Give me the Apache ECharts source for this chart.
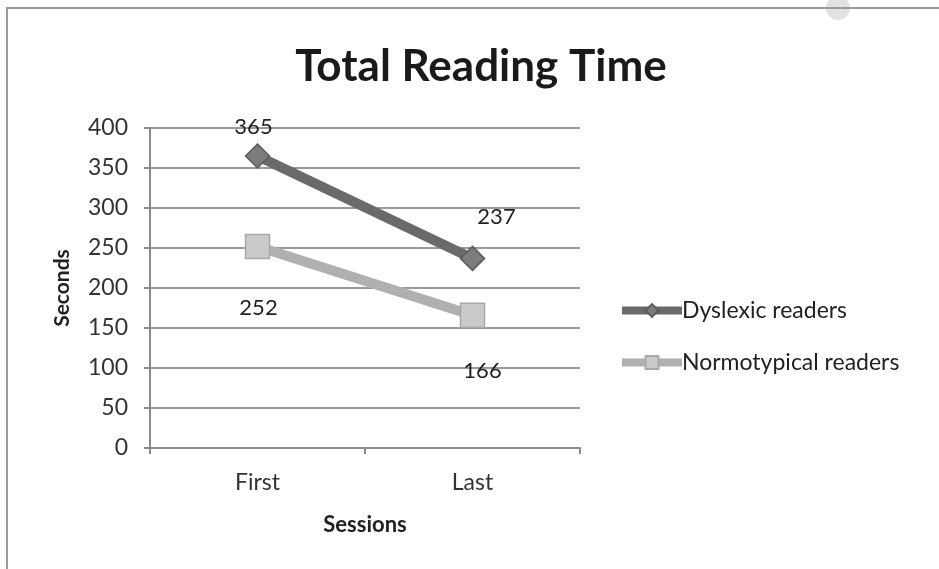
<!DOCTYPE html>
<html>
<head>
<meta charset="utf-8">
<title>Total Reading Time</title>
<script src="https://cdn.jsdelivr.net/npm/echarts@6/dist/echarts.min.js"></script>
<style>
  html, body { margin: 0; padding: 0; background: #fff; }
  #chart { width: 939px; height: 569px; }
</style>
</head>
<body>
<div id="chart"></div>
<script>
// data
var sessions = ['First', 'Last']
var dyslexic = [365, 237]
var normotypical = [252, 166]
// label offsets (px) from each point, as placed in the original
var dysLabelOffset = [[-4, -29], [24, -41]]
var normLabelOffset = [[1, 62], [10, 56]]

var font = 'Lato, "Open Sans", sans-serif'

function withLabels(values, offsets) {
  return values.map(function (v, i) {
    return {
      value: v,
      label: { offset: offsets[i] }
    }
  })
}

var chart = echarts.init(document.getElementById('chart'))
chart.setOption({
  backgroundColor: '#fff',
  animation: false,
  textStyle: { fontFamily: font },
  title: {
    text: 'Total Reading Time',
    left: 476,
    top: 40,
    textAlign: 'center',
    textStyle: { fontFamily: font, fontSize: 44, fontWeight: 'bold', color: '#1a1a1a' }
  },
  graphic: [
    // frame of the screenshot
    { type: 'circle', shape: { cx: 838, cy: 8, r: 12 }, style: { fill: '#e2e2e2' }, z: 0 },
    { type: 'polyline', shape: { points: [[7, 569], [7, 8], [939, 8]] },
      style: { stroke: '#9a9a9a', lineWidth: 2, fill: null }, z: 1 }
  ],
  legend: {
    orient: 'vertical',
    left: 613,
    top: 294,
    itemGap: 29,
    itemWidth: 60,
    itemHeight: 16,
    lineStyle: { width: 8 },
    textStyle: { fontFamily: font, fontSize: 23, color: '#222', padding: [0, 0, 0, -5] },
    data: ['Dyslexic readers', 'Normotypical readers']
  },
  grid: { left: 150, right: 359, top: 128, bottom: 121, containLabel: false },
  xAxis: {
    type: 'category',
    data: sessions,
    boundaryGap: true,
    name: 'Sessions',
    nameLocation: 'middle',
    nameGap: 66,
    nameTextStyle: { fontFamily: font, fontSize: 22, fontWeight: 'bold', color: '#222' },
    axisLine: { lineStyle: { color: '#8a8a8a', width: 2 } },
    axisTick: { show: true, length: 6, lineStyle: { color: '#8a8a8a', width: 2 } },
    axisLabel: { fontFamily: font, fontSize: 23, color: '#333', margin: 23 }
  },
  yAxis: {
    type: 'value',
    min: 0,
    max: 400,
    interval: 50,
    name: 'Seconds',
    nameLocation: 'middle',
    nameGap: 77,
    nameRotate: 90,
    nameTextStyle: { fontFamily: font, fontSize: 21, fontWeight: 'bold', color: '#222' },
    axisLine: { show: true, lineStyle: { color: '#8a8a8a', width: 2 } },
    axisTick: { show: true, length: 6, lineStyle: { color: '#8a8a8a', width: 2 } },
    axisLabel: { fontFamily: font, fontSize: 23, color: '#333', margin: 22 },
    splitLine: { lineStyle: { color: '#9a9a9a', width: 2 } }
  },
  series: [
    {
      name: 'Dyslexic readers',
      type: 'line',
      data: withLabels(dyslexic, dysLabelOffset),
      symbol: 'diamond',
      symbolSize: 24,
      lineStyle: { color: '#6a6a6a', width: 10 },
      itemStyle: { color: '#7c7c7c', borderColor: '#5c5c5c', borderWidth: 1.5 },
      label: {
        show: true,
        position: 'inside',
        fontFamily: font,
        fontSize: 22,
        color: '#222'
      },
      z: 3
    },
    {
      name: 'Normotypical readers',
      type: 'line',
      data: withLabels(normotypical, normLabelOffset),
      symbol: 'rect',
      symbolSize: 24,
      lineStyle: { color: '#b0b0b0', width: 10 },
      itemStyle: { color: '#cacaca', borderColor: '#a8a8a8', borderWidth: 1.5 },
      label: {
        show: true,
        position: 'inside',
        fontFamily: font,
        fontSize: 22,
        color: '#222'
      },
      z: 2
    }
  ]
})
</script>
</body>
</html>
